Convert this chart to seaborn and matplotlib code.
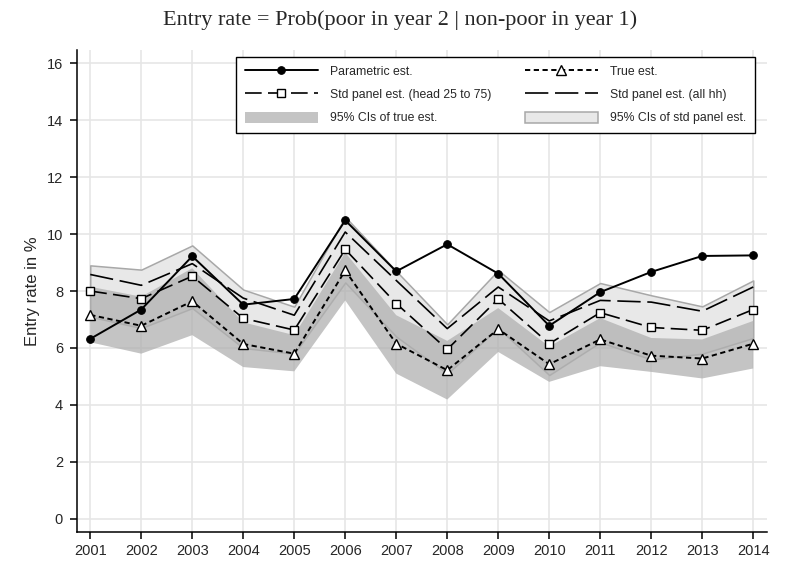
#imports
import numpy as np
import pandas as pd
import seaborn as sns
import matplotlib.pyplot as plt

years = list(range(2001, 2015))

# point estimates (entry rate in %)
parametric = [6.32, 7.35, 9.22, 7.52, 7.72, 10.48, 8.69, 9.64, 8.61, 6.78, 7.96, 8.67, 9.23, 9.25]
true_est = [7.16, 6.78, 7.64, 6.14, 5.80, 8.72, 6.15, 5.22, 6.66, 5.43, 6.30, 5.73, 5.63, 6.15]
std_head = [8.00, 7.73, 8.52, 7.04, 6.63, 9.46, 7.56, 5.95, 7.72, 6.15, 7.24, 6.72, 6.62, 7.35]
std_all = [8.58, 8.20, 8.96, 7.75, 7.15, 10.07, 8.37, 6.68, 8.14, 6.95, 7.67, 7.61, 7.29, 8.14]

# 95% confidence bands
ci_true_lo = [6.20, 5.80, 6.45, 5.33, 5.18, 7.67, 5.10, 4.19, 5.86, 4.81, 5.36, 5.16, 4.93, 5.28]
ci_true_hi = [8.15, 7.80, 8.80, 6.90, 6.45, 9.35, 7.15, 6.25, 7.40, 6.05, 7.05, 6.35, 6.30, 6.95]
ci_std_lo = [7.10, 6.70, 7.40, 6.00, 5.80, 8.30, 6.40, 5.10, 6.70, 5.05, 6.20, 5.60, 5.80, 6.35]
ci_std_hi = [8.90, 8.75, 9.60, 8.05, 7.45, 10.60, 8.70, 6.83, 8.73, 7.26, 8.28, 7.85, 7.46, 8.37]

labels = ['Parametric est.', 'True est.', 'Std panel est. (head 25 to 75)',
          'Std panel est. (all hh)', '95% CIs of true est.', '95% CIs of std panel est.']

sns.set_style('ticks')
plt.rcParams['font.family'] = ['Liberation Sans', 'DejaVu Sans']

fig, ax = plt.subplots(figsize=(7.87, 5.65), dpi=100)
fig.subplots_adjust(left=77/787, right=767/787, bottom=33/565, top=515/565)

ax.grid(True, color='#e6e6e6', lw=1.2)
ax.set_axisbelow(True)

# bands
ax.fill_between(years, ci_std_lo, ci_std_hi, facecolor='#e8e8e8',
                edgecolor='#a8a8a8', lw=1.1, zorder=1, label=labels[5])
ax.fill_between(years, ci_true_lo, ci_true_hi, facecolor='#b0b0b0',
                edgecolor='none', alpha=0.75, zorder=2, label=labels[4])

# lines
sns.lineplot(x=years, y=std_all, ax=ax, color='black', lw=1.2,
             linestyle=(0, (14, 4)), label=labels[3], zorder=4, legend=False)
sns.lineplot(x=years, y=std_head, ax=ax, color='black', lw=1.2,
             linestyle=(0, (10, 3.8)), marker='s', markersize=6,
             markerfacecolor='white', markeredgecolor='black', markeredgewidth=1,
             label=labels[2], zorder=5, legend=False)
sns.lineplot(x=years, y=true_est, ax=ax, color='black', lw=1.4,
             linestyle=(0, (2.7, 1.8)), marker='^', markersize=7,
             markerfacecolor='white', markeredgecolor='black', markeredgewidth=1,
             label=labels[1], zorder=5, legend=False)
sns.lineplot(x=years, y=parametric, ax=ax, color='black', lw=1.4,
             marker='o', markersize=5.5, markeredgecolor='black',
             label=labels[0], zorder=6, legend=False)

ax.set_xlim(2000.74, 2014.27)
ax.set_ylim(-0.46, 16.46)
ax.set_xticks(years)
ax.set_yticks(range(0, 17, 2))
ax.tick_params(direction='out', length=5, width=1.1, color='black', labelsize=10.5)
ax.tick_params(axis='y', pad=5)
ax.tick_params(axis='x', pad=3.5)
ax.set_xlabel('')
ax.set_ylabel('Entry rate in %', fontsize=12)
ax.yaxis.set_label_coords(-0.0536, 0.5)
sns.despine(ax=ax)
for s in ['left', 'bottom']:
    ax.spines[s].set_color('black')
    ax.spines[s].set_linewidth(1.1)

fig.text(400/787, 1 - 20/565, 'Entry rate = Prob(poor in year 2 | non-poor in year 1)',
         ha='center', va='center', family='Liberation Serif', fontsize=16)

handles, labs = ax.get_legend_handles_labels()
hmap = dict(zip(labs, handles))
order = [labels[0], labels[2], labels[4], labels[1], labels[3], labels[5]]
leg = ax.legend([hmap[l] for l in order], order, ncol=2, loc='upper right',
                bbox_to_anchor=(755/787, 1 - 57/565), bbox_transform=fig.transFigure,
                frameon=True, fancybox=False, edgecolor='black', framealpha=1,
                fontsize=8.8, handlelength=6.0, handleheight=1.0, handletextpad=1.0,
                columnspacing=2.7, labelspacing=0.85, borderpad=0.7, borderaxespad=0)
leg.get_frame().set_linewidth(1)

plt.savefig('out.png', dpi=100)
